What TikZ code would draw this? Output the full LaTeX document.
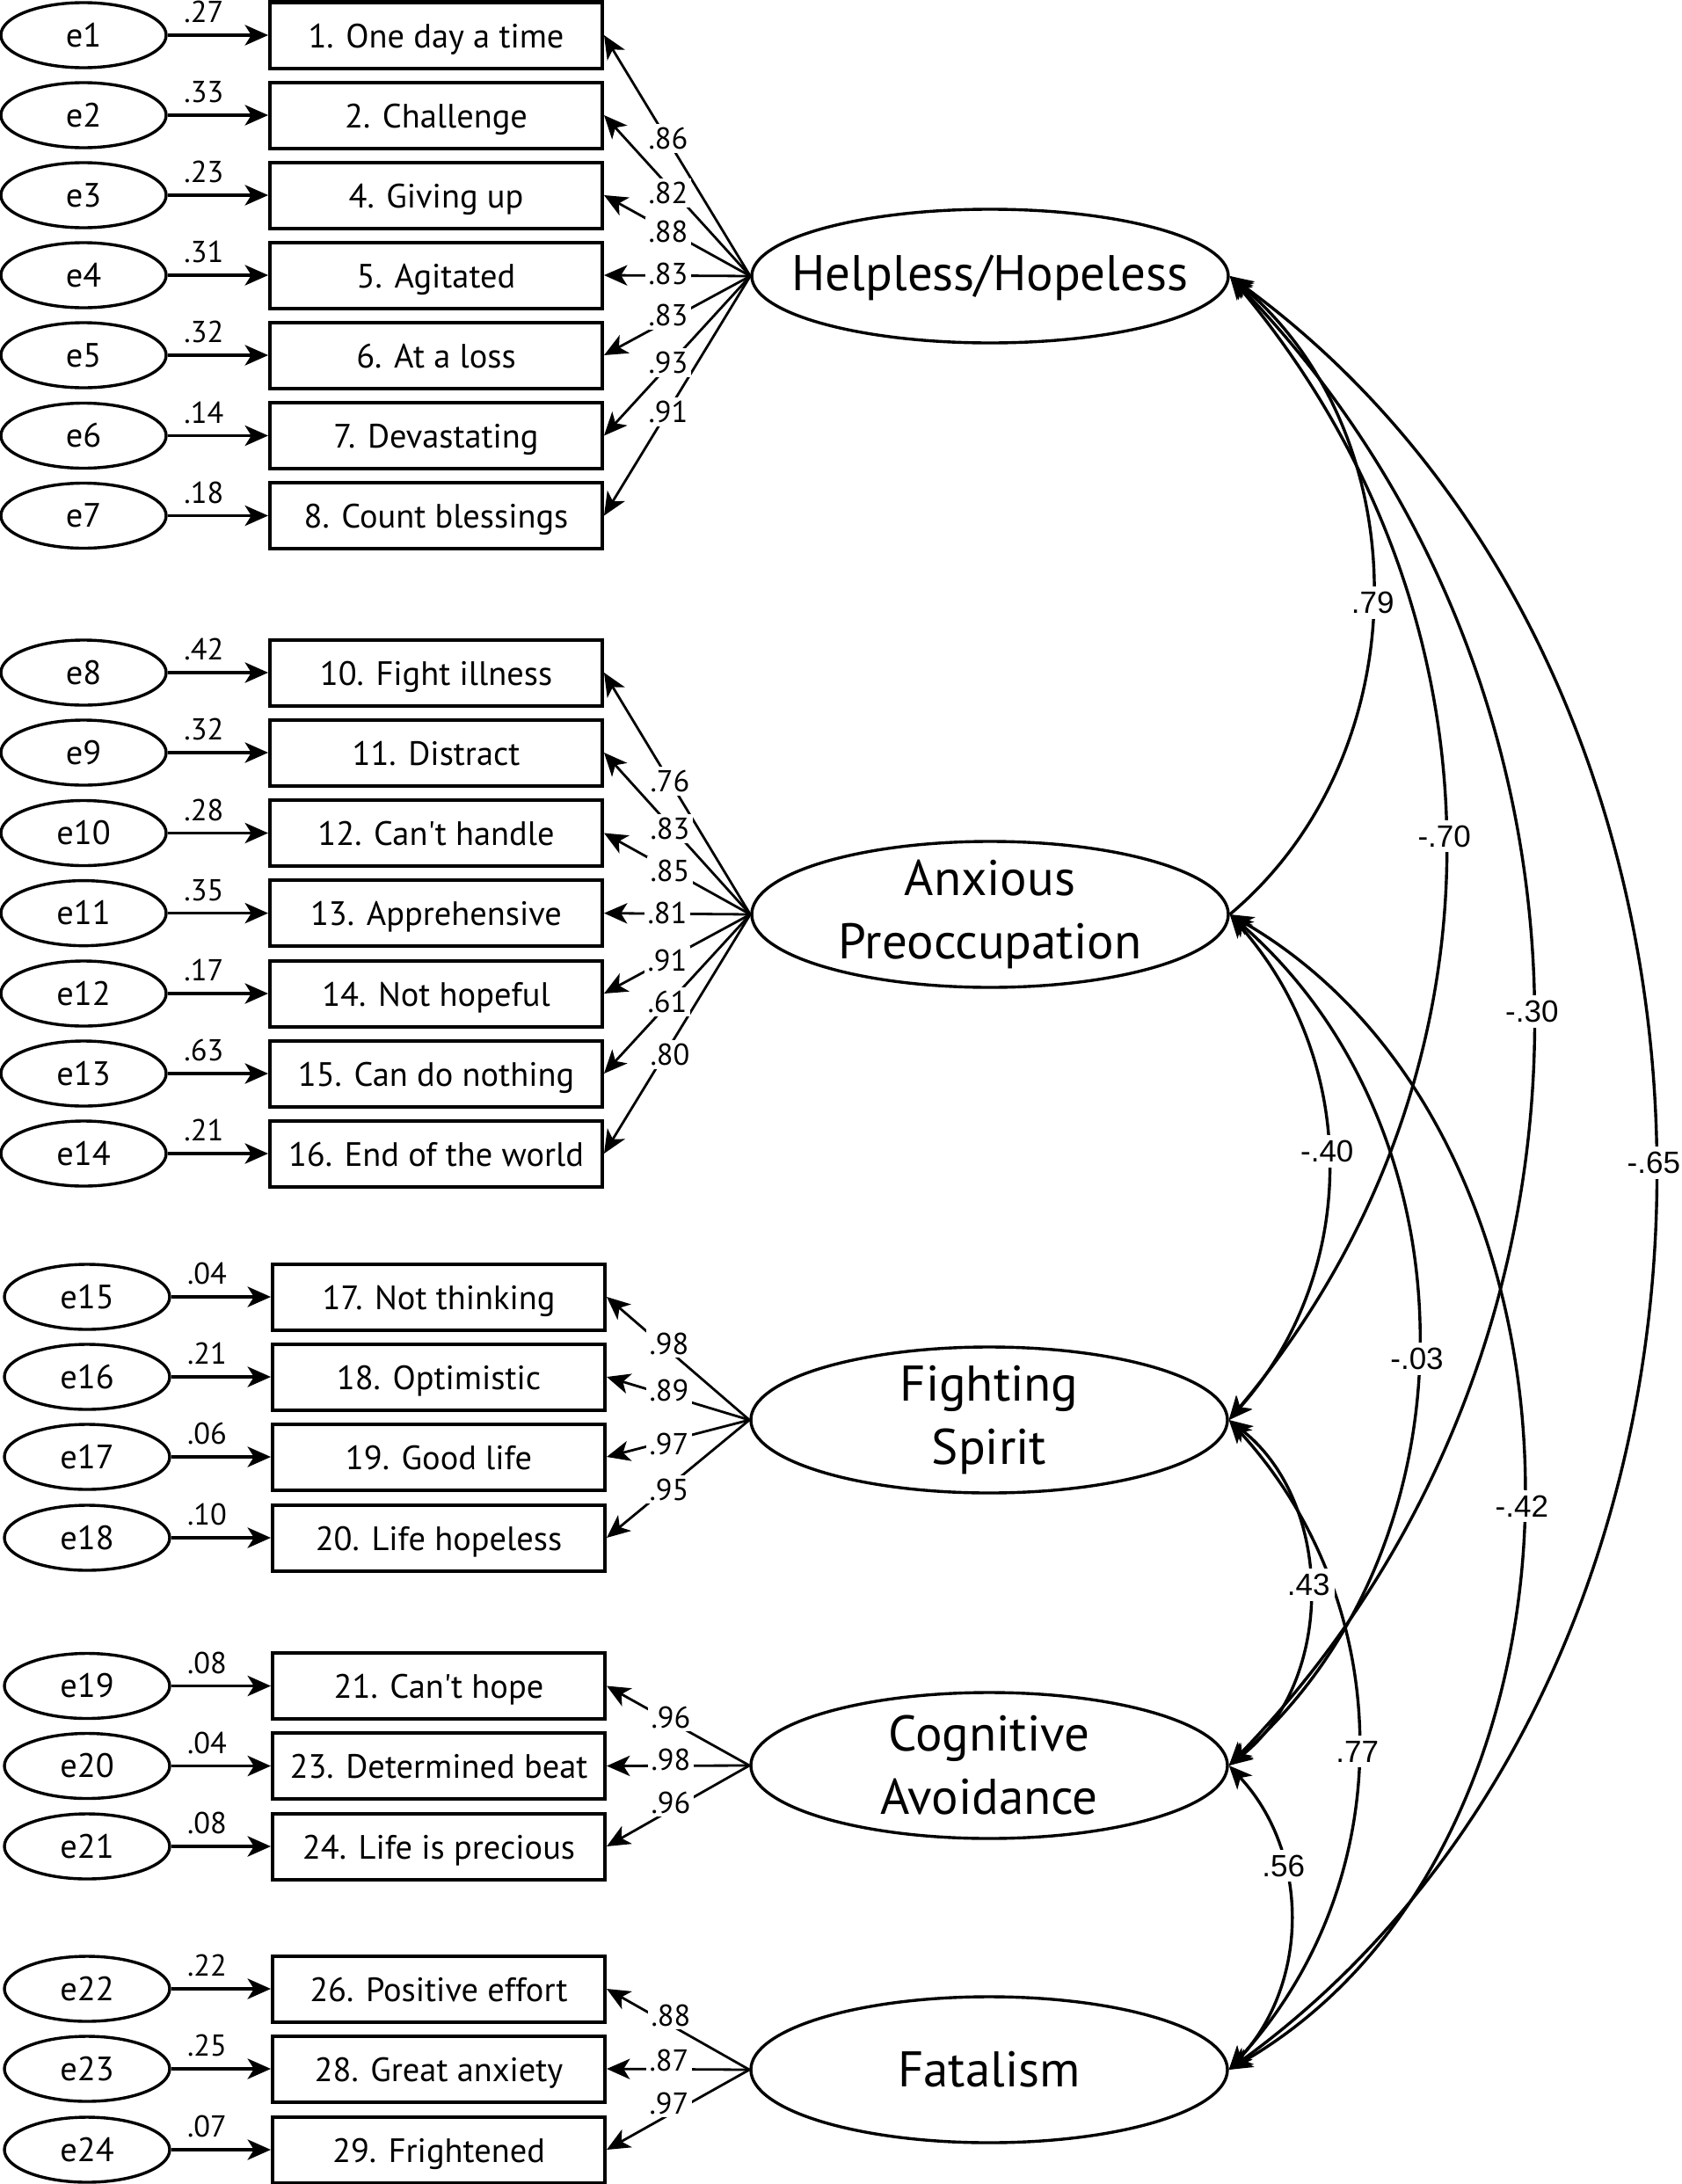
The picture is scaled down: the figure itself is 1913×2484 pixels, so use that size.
\documentclass[tikz,border=0pt]{standalone}
\usepackage{fontspec}
\setmainfont{PT Sans}
\newfontfamily\corfont{Liberation Sans}
\usetikzlibrary{shapes.geometric,arrows.meta}
\newcommand{\itemfont}{\fontsize{9.6pt}{11pt}\selectfont}
\newcommand{\lblfont}{\fontsize{8.6pt}{10pt}\selectfont}
\newcommand{\factfont}{\fontsize{14.25pt}{18pt}\selectfont}
\newcommand{\corlblfont}{\corfont\fontsize{8.75pt}{10pt}\selectfont}
\tikzset{
  >={Stealth[length=6.6pt,width=5.8pt,inset=1.8pt]},
  errnode/.style={ellipse, draw, line width=0.85pt, minimum width=47pt, minimum height=18.5pt, inner sep=0pt, text height=6.6pt, text depth=0pt, font=\itemfont},
  itembox/.style={rectangle, draw, line width=1pt, minimum width=94.5pt, minimum height=18.75pt, inner sep=0pt, text height=7pt, text depth=0pt, font=\itemfont},
  factor/.style={ellipse, draw, line width=0.85pt, minimum width=135.5pt, minimum height=41.5pt, inner sep=0pt},
  facttext/.style={align=center, inner sep=0pt, font=\factfont},
  errarrow/.style={->, line width=0.85pt},
  loadarrow/.style={->, line width=0.7pt},
  evlabel/.style={above=3pt, inner sep=0pt, font=\lblfont},
  ldlabel/.style={fill=white, inner sep=1pt, font=\lblfont},
  corr/.style={line width=0.85pt},
  corlabel/.style={fill=white, inner sep=1.5pt, font=\corlblfont},
}
\begin{document}
\begin{tikzpicture}[x=0.25pt, y=-0.25pt]
\useasboundingbox (0,0) rectangle (1913,2484);

% factors
\node[factor, minimum height=38pt] (H) at (1126,314) {};
\node[factor] (A) at (1126,1040) {};
\node[factor] (F) at (1125,1615) {};
\node[factor] (C) at (1125,2008) {};
\node[factor] (T) at (1125,2354) {};
\node[facttext] (Ht) at ([yshift=-0.4pt]H.center) {Helpless/Hopeless};
\node[facttext] (At) at (A.center) {Anxious\\Preoccupation};
\node[facttext] (Ft) at (F.center) {Fighting\\Spirit};
\node[facttext] (Ct) at (C.center) {Cognitive\\Avoidance};
\node[facttext] (Tt) at (T.center) {Fatalism};

% group 1
\foreach \k/\n/\y/\txt/\ev in {1/1/40/{1. One day a time}/.27, 2/2/131/{2. Challenge}/.33, 3/4/222/{4. Giving up}/.23, 4/5/313/{5. Agitated}/.31, 5/6/404/{6. At a loss}/.32, 6/7/495.5/{7. Devastating}/.14, 7/8/586.5/{8. Count blessings}/.18}{
  \node[errnode] (e\k) at (95,\y) {e\k};
  \node[itembox] (v\n) at (496,\y) {\txt};
  \draw[errarrow] (e\k.east) -- node[pos=.36,evlabel]{\ev} (v\n.west);
  \draw[loadarrow] (H.west) -- (v\n.east);
}
% group 2
\foreach \k/\n/\y/\txt/\ev in {8/10/765/{10. Fight illness}/.42, 9/11/856/{11. Distract}/.32, 10/12/947.5/{12. Can\textquotesingle t handle}/.28, 11/13/1038.6/{13. Apprehensive}/.35, 12/14/1130/{14. Not hopeful}/.17, 13/15/1221/{15. Can do nothing}/.63, 14/16/1312/{16. End of the world}/.21}{
  \node[errnode] (e\k) at (95,\y) {e\k};
  \node[itembox] (v\n) at (496,\y) {\txt};
  \draw[errarrow] (e\k.east) -- node[pos=.36,evlabel]{\ev} (v\n.west);
  \draw[loadarrow] (A.west) -- (v\n.east);
}
% group 3
\foreach \k/\n/\y/\txt/\ev in {15/17/1475/{17. Not thinking}/.04, 16/18/1566/{18. Optimistic}/.21, 17/19/1657/{19. Good life}/.06, 18/20/1749/{20. Life hopeless}/.10}{
  \node[errnode] (e\k) at (99,\y) {e\k};
  \node[itembox] (v\n) at (499,\y) {\txt};
  \draw[errarrow] (e\k.east) -- node[pos=.36,evlabel]{\ev} (v\n.west);
  \draw[loadarrow] (F.west) -- (v\n.east);
}
% group 4
\foreach \k/\n/\y/\txt/\ev in {19/21/1917.5/{21. Can\textquotesingle t hope}/.08, 20/23/2008.5/{23. Determined beat}/.04, 21/24/2100/{24. Life is precious}/.08}{
  \node[errnode] (e\k) at (99,\y) {e\k};
  \node[itembox] (v\n) at (499,\y) {\txt};
  \draw[errarrow] (e\k.east) -- node[pos=.36,evlabel]{\ev} (v\n.west);
  \draw[loadarrow] (C.west) -- (v\n.east);
}
% group 5
\foreach \k/\n/\y/\txt/\ev in {22/26/2262/{26. Positive effort}/.22, 23/28/2353/{28. Great anxiety}/.25, 24/29/2445/{29. Frightened}/.07}{
  \node[errnode] (e\k) at (99,\y) {e\k};
  \node[itembox] (v\n) at (499,\y) {\txt};
  \draw[errarrow] (e\k.east) -- node[pos=.36,evlabel]{\ev} (v\n.west);
  \draw[loadarrow] (T.west) -- (v\n.east);
}

% loading labels
\foreach \n/\ld/\lx/\ly in {1/.86/760/157.5, 2/.82/760/219.7, 4/.88/760/263, 5/.83/760/311, 6/.83/760/358.6, 7/.93/760/412.5, 8/.91/760/468.4,
  10/.76/762/888.6, 11/.83/762/942.5, 12/.85/762/990, 13/.81/759/1038, 14/.91/759/1092, 15/.61/759/1139.5, 16/.80/762/1199.6,
  17/.98/761/1528, 18/.89/761/1581, 19/.97/761/1642, 20/.95/761/1694,
  21/.96/763/1953, 23/.98/763/2001.5, 24/.96/763/2050,
  26/.88/763/2292, 28/.87/761/2343.6, 29/.97/761/2392}{
  \node[ldlabel] (l\n) at (\lx,\ly) {\ld};
}

% correlations
\draw[corr, <-] (H.east) to[bend left=50] coordinate[pos=.51] (cHA) (A.east);
\draw[corr, <->] (H.east) to[bend left=40] coordinate[pos=.49] (cHF) (F.east);
\draw[corr, <->] (H.east) to[bend left=44] coordinate[pos=.494] (cHC) (C.east);
\draw[corr, <->] (H.east) to[bend left=54] coordinate[pos=.495] (cHT) (T.east);
\draw[corr, <->] (A.east) to[bend left=41.5] coordinate[pos=.47] (cAF) (F.east);
\draw[corr, <->] (A.east) to[bend left=49] coordinate[pos=.52] (cAC) (C.east);
\draw[corr, <->] (A.east) to[bend left=60] coordinate[pos=.51] (cAT) (T.east);
\draw[corr, <->] (F.east) to[bend left=52] coordinate[pos=.48] (cFC) (C.east);
\draw[corr, <->] (F.east) to[bend left=42.5] coordinate[pos=.51] (cFT) (T.east);
\draw[corr, <->] (C.east) to[bend left=43] coordinate[pos=.34] (cCT) (T.east);

\node[corlabel] (kHA) at (cHA) {.79};
\node[corlabel] (kHF) at (cHF) {-.70};
\node[corlabel] (kHC) at (cHC) {-.30};
\node[corlabel] (kHT) at (cHT) {-.65};
\node[corlabel] (kAF) at (cAF) {-.40};
\node[corlabel] (kAC) at (cAC) {-.03};
\node[corlabel] (kAT) at (cAT) {-.42};
\node[corlabel] (kFC) at (cFC) {.43};
\node[corlabel] (kFT) at (cFT) {.77};
\node[corlabel] (kCT) at (cCT) {.56};
\end{tikzpicture}
\end{document}
